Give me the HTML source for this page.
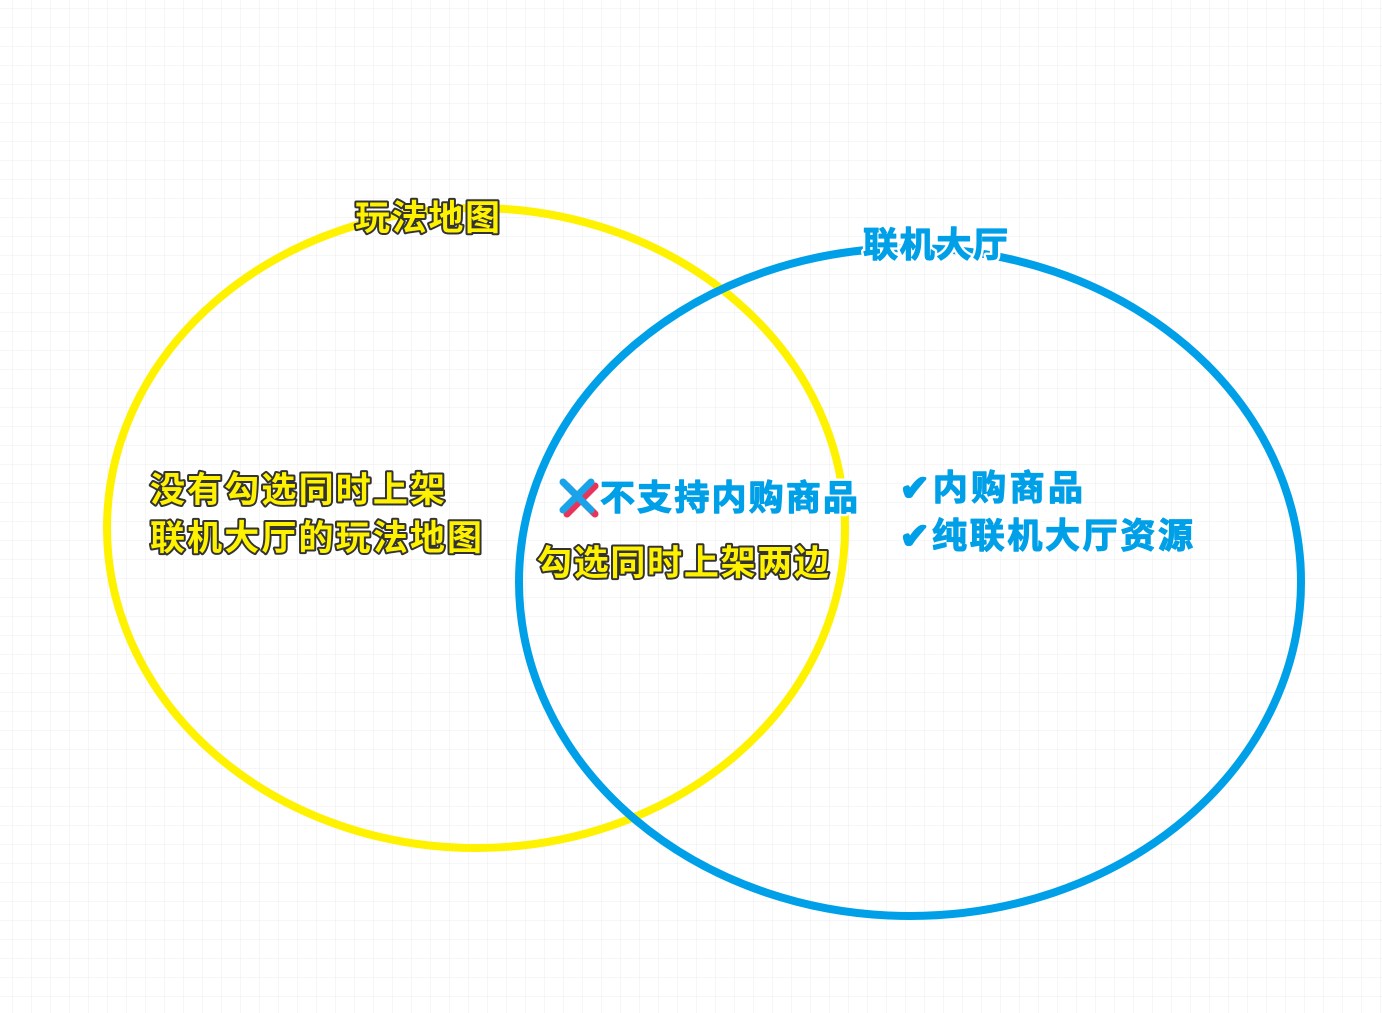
<!DOCTYPE html>
<html><head><meta charset="utf-8"><style>
html,body{margin:0;padding:0;width:1382px;height:1013px;overflow:hidden;background:#fff}
</style></head><body>
<svg width="1382" height="1013" xmlns="http://www.w3.org/2000/svg">
<defs>
<pattern id="g" x="12.5" y="8" width="19" height="19" patternUnits="userSpaceOnUse">
<path d="M0 0H19M0 0V19" stroke="#ececec" stroke-width="1" fill="none"/>
</pattern>
</defs>
<rect width="1382" height="1013" fill="url(#g)"/>
<ellipse cx="476" cy="528" rx="369" ry="320" fill="none" stroke="#fff200" stroke-width="8"/>
<ellipse cx="910" cy="582" rx="391" ry="334" fill="none" stroke="#00a0e9" stroke-width="8"/>
<g font-family="Liberation Sans, Noto Sans CJK SC, sans-serif" font-weight="bold" font-size="35" paint-order="stroke" stroke-linejoin="round">
<g fill="#fff200" stroke="#333" stroke-width="4">
<text x="355" y="230" textLength="145">玩法地图</text>
<text x="150" y="502" textLength="295">没有勾选同时上架</text>
<text x="150" y="550" textLength="332">联机大厅的玩法地图</text>
<text x="537" y="575" textLength="292">勾选同时上架两边</text>
</g>
<g fill="#00a0e9" stroke="#fff" stroke-width="6">
<text x="863" y="257" textLength="145">联机大厅</text>
<text x="600" y="510" textLength="258">不支持内购商品</text>
<text x="900" y="500" textLength="183">✔内购商品</text>
<text x="900" y="548" textLength="293">✔纯联机大厅资源</text>
</g>
<g fill="#00a0e9" stroke="#00a0e9" stroke-width="1.2">
<text x="863" y="257" textLength="145">联机大厅</text>
<text x="600" y="510" textLength="258">不支持内购商品</text>
<text x="900" y="500" textLength="183">✔内购商品</text>
<text x="900" y="548" textLength="293">✔纯联机大厅资源</text>
</g>
</g>
<g stroke-linecap="round" stroke-width="7">
<path d="M565 484L593 512M593 484L565 512" stroke="#e8335a" transform="translate(2,2)"/>
<path d="M563 482L591 510M591 482L563 510" stroke="#1aa3e8"/>
</g>
</svg>
</body></html>
